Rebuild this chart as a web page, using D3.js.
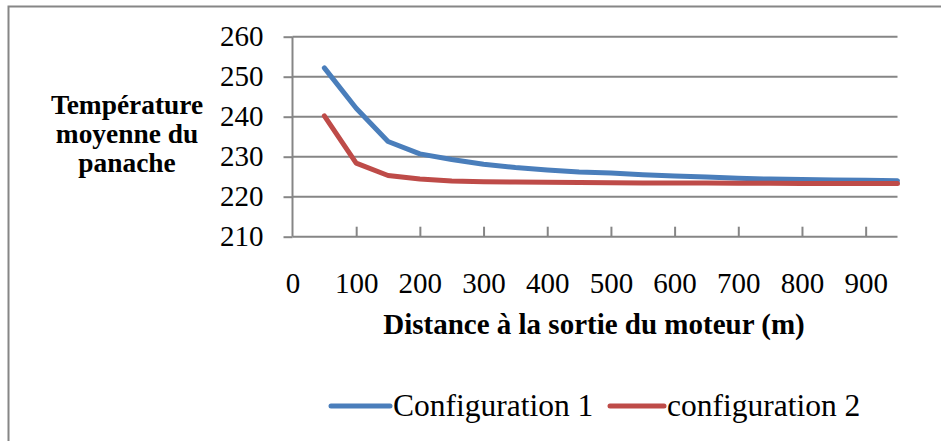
<!DOCTYPE html>
<html>
<head>
<meta charset="utf-8">
<script src="https://cdn.jsdelivr.net/npm/d3@7"></script>
<style>
  html, body { margin: 0; padding: 0; background: #fff; }
  svg { display: block; }
  text { font-family: "Liberation Serif", "Times New Roman", serif; fill: #000; }
</style>
</head>
<body>
<svg id="chart" width="941" height="441"></svg>
<script>
const distances = [50,100,150,200,250,300,350,400,450,500,550,600,650,700,750,800,850,900,950];
const config1 = [252.2,242.1,233.8,230.7,229.3,228.1,227.3,226.7,226.2,225.9,225.5,225.2,224.9,224.6,224.4,224.3,224.2,224.1,224.0];
const config2 = [240.2,228.4,225.3,224.4,223.9,223.75,223.65,223.6,223.55,223.5,223.45,223.4,223.4,223.35,223.35,223.3,223.3,223.3,223.3];
const seriesNames = ["Configuration 1", "configuration 2"];
const xTicks = [0,100,200,300,400,500,600,700,800,900];
const yTicks = [210,220,230,240,250,260];
const xTitle = "Distance à la sortie du moteur (m)";
const yTitleLines = ["Température", "moyenne du", "panache"];

const colors = ["#4A7EBB", "#BE4B48"];
const grid = "#868686";

const svg = d3.select("#chart");

// outer frame
svg.append("rect").attr("x", 8.5).attr("y", 6.5).attr("width", 940).attr("height", 440)
  .attr("fill", "none").attr("stroke", grid).attr("stroke-width", 2);

const x = d3.scaleLinear().domain([0, 950]).range([292.5, 897.5]);
const y = d3.scaleLinear().domain([210, 260]).range([236.7, 36.7]);

// gridlines
svg.append("g").selectAll("line").data(yTicks.filter(t => t !== 210)).join("line")
  .attr("x1", x(0)).attr("x2", x(950))
  .attr("y1", d => y(d)).attr("y2", d => y(d))
  .attr("stroke", grid).attr("stroke-width", 2);

// y axis
const yAxis = svg.append("g").attr("transform", `translate(${x(0)},0)`)
  .call(d3.axisLeft(y).tickValues(yTicks).tickSize(9).tickPadding(20).tickFormat(d3.format("d")));
yAxis.select(".domain").attr("stroke", grid).attr("stroke-width", 2)
  .attr("d", `M0,${y(260)}V${y(210)}`);
yAxis.selectAll(".tick line").attr("stroke", grid).attr("stroke-width", 2);
yAxis.selectAll(".tick text").attr("font-size", 29).attr("font-family", "Liberation Serif").attr("fill", "#000");

// x axis
const xAxis = svg.append("g").attr("transform", `translate(0,${y(210)})`)
  .call(d3.axisBottom(x).tickValues(xTicks).tickSize(0).tickPadding(56).tickFormat(d3.format("d")));
xAxis.select(".domain").attr("stroke", grid).attr("stroke-width", 2)
  .attr("d", `M${x(0)},0H${x(950)}`);
xAxis.selectAll(".tick text").attr("font-size", 29).attr("font-family", "Liberation Serif").attr("fill", "#000").attr("dy", 0);
// inside tick marks
xAxis.selectAll(".tick").filter(d => d !== 0).append("line")
  .attr("y1", 0).attr("y2", -10).attr("stroke", grid).attr("stroke-width", 2);

// lines
const line = d3.line().x(d => x(d[0])).y(d => y(d[1]));
[config1, config2].forEach((vals, i) => {
  svg.append("path")
    .datum(distances.map((dd, j) => [dd, vals[j]]))
    .attr("d", line)
    .attr("fill", "none")
    .attr("stroke", colors[i])
    .attr("stroke-width", 5)
    .attr("stroke-linejoin", "round")
    .attr("stroke-linecap", "round");
});

// axis titles
svg.append("text").attr("x", 594).attr("y", 334).attr("text-anchor", "middle")
  .attr("font-size", 29).attr("font-weight", "bold").text(xTitle);

svg.append("text").attr("text-anchor", "middle").attr("font-size", 27.4).attr("font-weight", "bold")
  .selectAll("tspan").data(yTitleLines).join("tspan")
  .attr("x", 127).attr("y", (d, i) => 114.3 + i * 28.7).text(d => d);

// legend
const legendItems = [
  {x1: 331, x2: 390, tx: 393},
  {x1: 610, x2: 664, tx: 667}
];
legendItems.forEach((l, i) => {
  svg.append("line").attr("x1", l.x1).attr("x2", l.x2).attr("y1", 406).attr("y2", 406)
    .attr("stroke", colors[i]).attr("stroke-width", 5).attr("stroke-linecap", "round");
  svg.append("text").attr("x", l.tx).attr("y", 415.5).attr("font-size", 31.5).text(seriesNames[i]);
});
</script>
</body>
</html>
